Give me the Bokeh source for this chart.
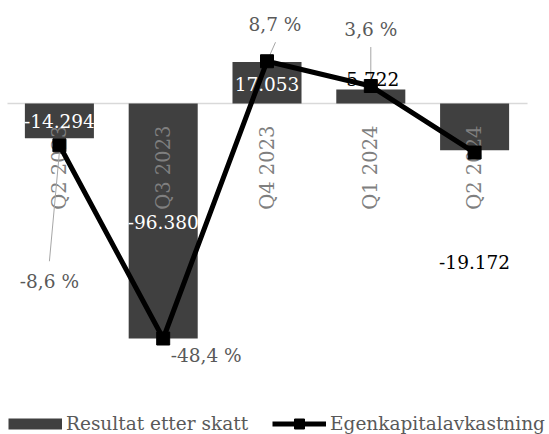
import math
from bokeh.plotting import figure
from bokeh.models import ColumnDataSource, Range1d, Legend, LegendItem
from bokeh.core.properties import value
from bokeh.embed import file_html
from bokeh.resources import INLINE

# ---------------- data ----------------
quarters = ["Q2 2023", "Q3 2023", "Q4 2023", "Q1 2024", "Q2 2024"]
resultat_etter_skatt = [-14294, -96380, 17053, 5722, -19172]
egenkapitalavkastning = [-8.6, -48.4, 8.7, 3.6, -10.1]
series_names = ["Resultat etter skatt", "Egenkapitalavkastning"]

# ---------------- layout / style ----------------
W, H = 549, 434
CAT_PX = 103.8                # pixels per category
FIRST_PX = 58.9               # screen x of first category centre
ZERO_PX = 103                 # screen y of zero line
PX_PER_RES = 235 / 96380      # pixels per unit on primary axis
PX_PER_PCT = 235 / 48.4       # pixels per % on secondary axis
FONT = "DejaVu Serif"
LBL_SIZE = "18.5px"

res_lbl_dx = [0, 0, 0, 2, 0]
res_lbl_dy = [-17, -117, 22, -11, 112]
res_lbl_col = ["white", "white", "white", "black", "black"]
pct_lbl_show = [True, True, True, True, False]
pct_lbl_dx = [-10, 43, 8, 0, 0]
pct_lbl_dy = [136, 17, -37, -57, 0]
# leader lines: (index, dx0, dy0, dx1, dy1) in screen px from the point
leaders = [(0, -10, 116, 1, -4), (2, 8.5, -19, 0.5, -1), (3, 0, -39, 0, -6)]

def fmt_res(v):
    return f"{v:,}".replace(",", ".")

def fmt_pct(v):
    return f"{v:.1f} %".replace(".", ",")

xi = list(range(len(quarters)))

src = ColumnDataSource(dict(
    x=xi,
    q=quarters,
    res=resultat_etter_skatt,
    pct=egenkapitalavkastning,
    res_lbl=[fmt_res(v) for v in resultat_etter_skatt],
    res_dx=res_lbl_dx,
    res_dy=res_lbl_dy,
    res_col=res_lbl_col,
    pct_lbl=[fmt_pct(v) if s else "" for v, s in zip(egenkapitalavkastning, pct_lbl_show)],
    pct_dx=pct_lbl_dx,
    pct_dy=pct_lbl_dy,
))

p = figure(
    width=W, height=H,
    x_range=Range1d(-FIRST_PX / CAT_PX, (W - FIRST_PX) / CAT_PX),
    y_range=Range1d(-(H - ZERO_PX) / PX_PER_RES, ZERO_PX / PX_PER_RES),
    output_backend="svg", toolbar_location=None,
    x_axis_location=None, y_axis_location=None,
    min_border=0, outline_line_color=None,
)
p.title.visible = False
p.extra_y_ranges = {"pct": Range1d(-(H - ZERO_PX) / PX_PER_PCT, ZERO_PX / PX_PER_PCT)}
p.grid.visible = False
p.background_fill_color = "white"
p.border_fill_color = "white"

# zero line (category axis), spanning the Excel plot area
p.segment(x0=[-0.5], x1=[len(quarters) - 0.5 + 0.01], y0=[0], y1=[0],
          line_color="#d9d9d9", line_width=1.5)

bars = p.vbar(x="x", top="res", width=0.665, source=src,
              fill_color="#404040", line_color=None)

# category labels (axis labels at zero)
p.text(x="x", y=0, text="q", source=src, angle=math.pi / 2,
       text_align="right", text_baseline="middle", y_offset=22,
       text_color="#7f7f7f", text_font=value(FONT), text_font_size="19.5px")

# leader lines
lx0, ly0, lx1, ly1 = [], [], [], []
for i, dx0, dy0, dx1, dy1 in leaders:
    v = egenkapitalavkastning[i]
    lx0.append(xi[i] + dx0 / CAT_PX)
    lx1.append(xi[i] + dx1 / CAT_PX)
    ly0.append(v - dy0 / PX_PER_PCT)
    ly1.append(v - dy1 / PX_PER_PCT)
p.segment(x0=lx0, y0=ly0, x1=lx1, y1=ly1, y_range_name="pct",
          line_color="#a6a6a6", line_width=1)

line = p.line(x="x", y="pct", source=src, y_range_name="pct",
              line_color="black", line_width=5)
marks = p.scatter(x="x", y="pct", source=src, y_range_name="pct",
                  marker="square", size=13, fill_color="black", line_color="black")

# data labels
p.text(x="x", y="res", text="res_lbl", source=src, x_offset="res_dx", y_offset="res_dy",
       text_align="center", text_baseline="middle", text_color="res_col",
       text_font=value(FONT), text_font_size=LBL_SIZE)
p.text(x="x", y="pct", text="pct_lbl", source=src, y_range_name="pct",
       x_offset="pct_dx", y_offset="pct_dy",
       text_align="center", text_baseline="middle", text_color="#595959",
       text_font=value(FONT), text_font_size=LBL_SIZE)

# legend swatch for bars (thick flat key like the original); drawn nowhere in the plot
nan = float("nan")
bar_key = p.line(x=[nan, nan], y=[nan, nan], line_color="#404040", line_width=11)

legend = Legend(
    items=[LegendItem(label=series_names[0], renderers=[bar_key]),
           LegendItem(label=series_names[1], renderers=[line, marks])],
    orientation="horizontal", location=(8, -1.5),
    glyph_width=54, glyph_height=25, label_standoff=4, spacing=24,
    padding=0, margin=0, border_line_color=None, background_fill_alpha=0,
    label_text_font=FONT, label_text_font_size=LBL_SIZE, label_text_color="#595959",
)
p.add_layout(legend)

open("out.html", "w").write(file_html(p, INLINE))
